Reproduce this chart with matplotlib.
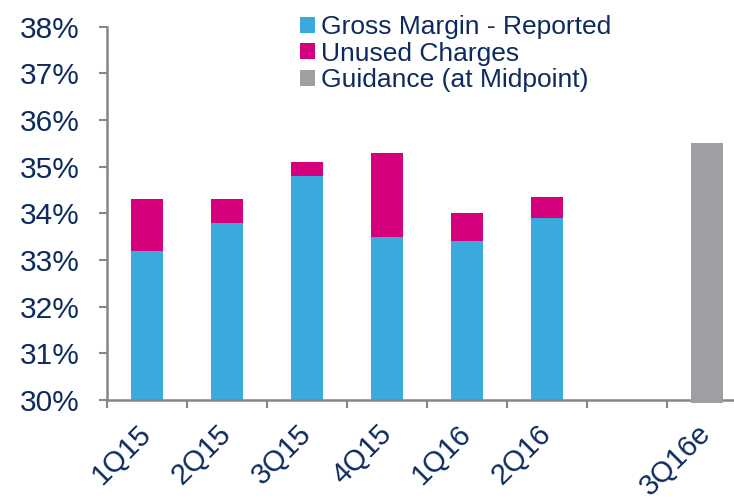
#!/usr/bin/env python3

import matplotlib
matplotlib.use('Agg')
import matplotlib.pyplot as plt
import numpy as np

# Data (gross margin, %)
quarters = ['1Q15', '2Q15', '3Q15', '4Q15', '1Q16', '2Q16', '', '3Q16e']
reported = [33.2, 33.8, 34.8, 33.5, 33.4, 33.9]
unused = [1.1, 0.5, 0.3, 1.8, 0.6, 0.45]
guidance = 35.5
guidance_idx = 7

blue = '#3AA9DB'
magenta = '#D5007B'
grey = '#9E9FA2'
navy = '#0D2B5E'
axis_grey = '#868686'

plt.rcParams['font.family'] = ['Liberation Sans', 'DejaVu Sans']

fig = plt.figure(figsize=(7.34, 5.01), dpi=100)
W, H = 734, 501
# axes in pixel terms: left 107, bottom at y=400, top at 38% (~26 px)
ax = fig.add_axes([107 / W, 101 / H, 640 / W, 373.5 / H])

x = np.arange(len(reported))
base = 30
ax.bar(x, np.array(reported) - base, bottom=base, width=0.4, color=blue,
       label='Gross Margin - Reported', zorder=2)
ax.bar(x, unused, bottom=reported, width=0.4, color=magenta,
       label='Unused Charges', zorder=2)
ax.bar([guidance_idx], [guidance - base + 0.06], bottom=base - 0.06, width=0.4,
       color=grey, label='Guidance (at Midpoint)', zorder=3, clip_on=False)

ax.set_ylim(30, 38)
ax.set_xlim(-0.5, len(quarters) - 0.5)

ax.set_yticks(np.arange(30, 39, 1))
ax.set_yticklabels([f'{v}%' for v in range(30, 39)])

ax.set_xticks(np.arange(len(quarters)))
ax.set_xticklabels(quarters, rotation=45, ha='right', va='center',
                   rotation_mode='anchor')
ax.set_xticks(np.arange(len(quarters) + 1) - 0.5, minor=True)

ax.tick_params(axis='y', which='major', length=6, width=1.5, color=axis_grey,
               labelsize=21.5, labelcolor=navy, pad=13.4)
ax.tick_params(axis='x', which='major', length=0, labelsize=21,
               labelcolor=navy, pad=21)
ax.tick_params(axis='x', which='minor', length=6, width=1.5, color=axis_grey,
               direction='out')

for s in ['top', 'right']:
    ax.spines[s].set_visible(False)
for s in ['left', 'bottom']:
    ax.spines[s].set_color(axis_grey)
    ax.spines[s].set_linewidth(1.8)

leg = ax.legend(loc='upper left', bbox_to_anchor=(300 / W, 1 - 15 / H),
                bbox_transform=fig.transFigure, frameon=False, fontsize=19,
                handlelength=0.55, handleheight=0.55, handletextpad=0.25,
                labelspacing=0.1, borderpad=0, borderaxespad=0)
for t in leg.get_texts():
    t.set_color(navy)

fig.savefig('out.png', dpi=100, facecolor='white')
